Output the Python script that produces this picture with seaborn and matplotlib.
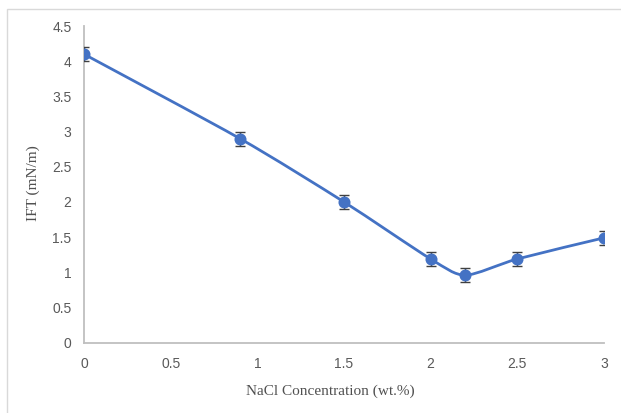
import matplotlib
matplotlib.use("Agg")
import matplotlib.pyplot as plt
from matplotlib.path import Path
from matplotlib.patches import PathPatch, Rectangle
import seaborn as sns
import pandas as pd

nacl = [0, 0.9, 1.5, 2, 2.2, 2.5, 3]
ift = [4.10, 2.90, 2.00, 1.19, 0.96, 1.19, 1.49]
ift_err = [0.1, 0.1, 0.1, 0.1, 0.1, 0.1, 0.1]
xticks = [0, 0.5, 1, 1.5, 2, 2.5, 3]
yticks = [0, 0.5, 1, 1.5, 2, 2.5, 3, 3.5, 4, 4.5]

df = pd.DataFrame({"nacl": nacl, "ift": ift, "err": ift_err})

sns.set_style("white")
blue = "#4472C4"

fig = plt.figure(figsize=(6.21, 4.13), dpi=100)
ax = fig.add_axes([0.1353, 0.1702, 0.8373, 0.7668])

# smoothed line (Excel-like bezier through the points)
verts = [(nacl[0], ift[0])]
codes = [Path.MOVETO]
n = len(nacl)
for i in range(n - 1):
    x0, y0 = nacl[max(i - 1, 0)], ift[max(i - 1, 0)]
    x1, y1 = nacl[i], ift[i]
    x2, y2 = nacl[i + 1], ift[i + 1]
    x3, y3 = nacl[min(i + 2, n - 1)], ift[min(i + 2, n - 1)]
    c1 = (x1 + (x2 - x0) / 8, y1 + (y2 - y0) / 8)
    c2 = (x2 - (x3 - x1) / 8, y2 - (y3 - y1) / 8)
    verts += [c1, c2, (x2, y2)]
    codes += [Path.CURVE4] * 3
ax.add_patch(PathPatch(Path(verts, codes), fill=False, edgecolor=blue, lw=2, zorder=2))

ax.errorbar(df["nacl"], df["ift"], yerr=df["err"], fmt="none", ecolor="#404040",
            elinewidth=1, capsize=3.5, capthick=1, zorder=3)
sns.scatterplot(data=df, x="nacl", y="ift", color=blue, s=75, edgecolor=blue,
                linewidth=0, zorder=4, ax=ax)

ax.set_xlim(0, 3)
ax.set_ylim(0, 4.5)
ax.set_xticks(xticks)
ax.set_xticklabels([f"{t:g}" for t in xticks])
ax.set_yticks(yticks)
ax.set_yticklabels([f"{t:g}" for t in yticks])
for lab in ax.get_xticklabels() + ax.get_yticklabels():
    lab.set_fontfamily("Liberation Sans")
    lab.set_fontsize(10)
    lab.set_color("#595959")
ax.tick_params(axis="both", length=0)
ax.tick_params(axis="x", pad=10)
ax.tick_params(axis="y", pad=9)

for side in ["top", "right"]:
    ax.spines[side].set_visible(False)
for side in ["left", "bottom"]:
    ax.spines[side].set_color("#BFBFBF")
    ax.spines[side].set_linewidth(1.3)

ax.set_xlabel("NaCl Concentration (wt.%)", fontfamily="Liberation Serif",
              fontsize=11, color="#505050")
ax.set_ylabel("IFT (mN/m)", fontfamily="Liberation Serif", fontsize=11,
              color="#505050")
ax.xaxis.set_label_coords(0.473, -0.133)
ax.yaxis.set_label_coords(-0.084, 0.505)

fig.patches.append(Rectangle((7 / 621, -0.05), 1.1, 1 - 8.5 / 413 + 0.05,
                             transform=fig.transFigure, fill=False,
                             edgecolor="#D9D9D9", lw=1))

fig.savefig("out.png", dpi=100)
